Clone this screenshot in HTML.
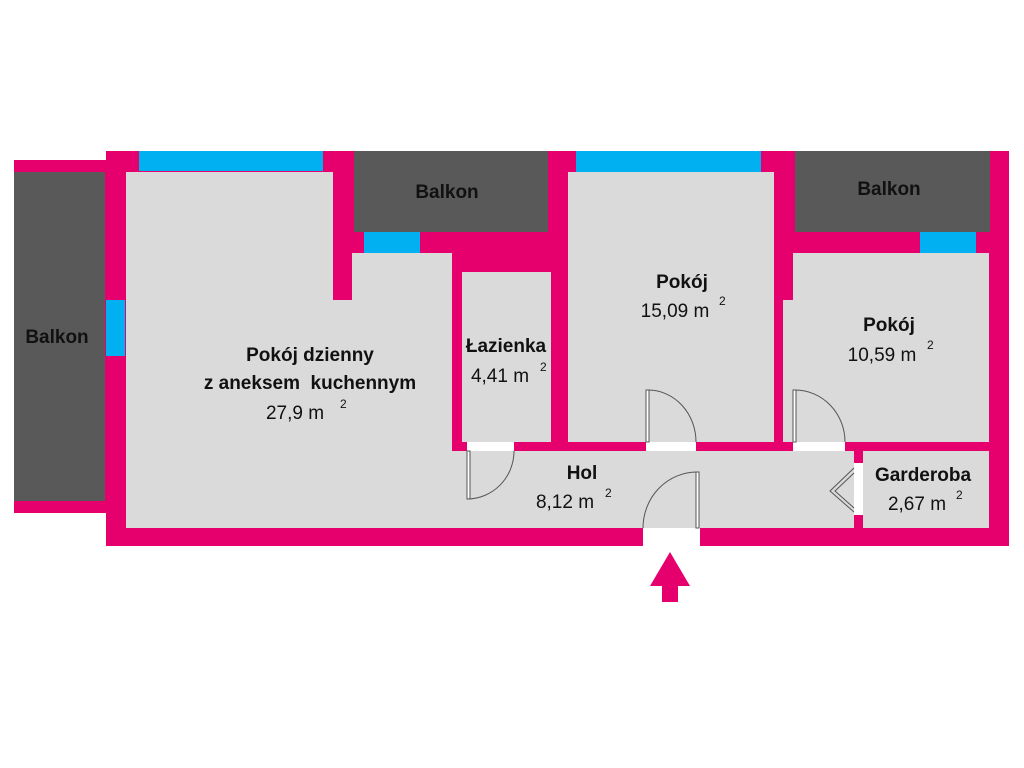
<!DOCTYPE html>
<html><head><meta charset="utf-8"><style>
html,body{margin:0;padding:0;background:#fff;}
svg{display:block;}
text{font-family:"Liberation Sans","DejaVu Sans",sans-serif;fill:#111;}
.b{font-weight:bold;font-size:19px;}
.r{font-size:19px;}
.s{font-size:12px;}
</style></head><body>
<svg width="1024" height="768" viewBox="0 0 1024 768" xmlns="http://www.w3.org/2000/svg">
<rect width="1024" height="768" fill="#fff"/>
<!-- left balcony -->
<rect x="14" y="160" width="94" height="353" fill="#e5006d"/>
<rect x="14" y="172" width="91" height="329" fill="#595959"/>
<!-- main outer -->
<rect x="106" y="151" width="903" height="395" fill="#e5006d"/>
<!-- balconies -->
<rect x="354" y="151" width="194" height="81" fill="#595959"/>
<rect x="795" y="151" width="195" height="81" fill="#595959"/>
<!-- windows -->
<rect x="139" y="151" width="184" height="20" fill="#00b0f0"/>
<rect x="106" y="300" width="19" height="56" fill="#00b0f0"/>
<rect x="364" y="232" width="56" height="21" fill="#00b0f0"/>
<rect x="576" y="151" width="185" height="21" fill="#00b0f0"/>
<rect x="920" y="232" width="56" height="21" fill="#00b0f0"/>
<!-- rooms -->
<g fill="#dadada">
<polygon points="126,172 333,172 333,300 352,300 352,253 452,253 452,451 854,451 854,528 126,528"/>
<rect x="462" y="272" width="89" height="170"/>
<rect x="568" y="172" width="206" height="270"/>
<polygon points="793,253 989,253 989,442 783,442 783,300 793,300"/>
<rect x="863" y="451" width="126" height="77"/>
</g>
<!-- door gaps -->
<g fill="#fff">
<rect x="467" y="442" width="47" height="9"/>
<rect x="646" y="442" width="50" height="9"/>
<rect x="793" y="442" width="52" height="9"/>
<rect x="854" y="463" width="9" height="52"/>
<rect x="643" y="528" width="57" height="18"/>
</g>
<!-- doors -->
<g fill="none" stroke="#555" stroke-width="1">
<rect x="467" y="451" width="3" height="48" fill="#fff"/>
<path d="M467,499 A47,48 0 0 0 514,451"/>
<rect x="646" y="390" width="3" height="52" fill="#fff"/>
<path d="M648,390 A48,52 0 0 1 696,442"/>
<rect x="793" y="390" width="3" height="52" fill="#fff"/>
<path d="M795,390 A50,52 0 0 1 845,442"/>
<rect x="696" y="472" width="3" height="56" fill="#fff"/>
<path d="M697,472 A54,56 0 0 0 643,528"/>
<path d="M854,468 L830,491 L854,512 M854,473 L835,491 L854,508"/>
</g>
<!-- entrance arrow -->
<polygon points="670,552 690,586 678,586 678,602 662,602 662,586 650,586" fill="#e5006d"/>
<!-- labels -->
<text class="b" x="57" y="343" text-anchor="middle">Balkon</text>
<text class="b" x="447" y="198" text-anchor="middle">Balkon</text>
<text class="b" x="889" y="195" text-anchor="middle">Balkon</text>
<text class="b" x="310" y="361" text-anchor="middle">Pokój dzienny</text>
<text class="b" x="310" y="389" text-anchor="middle" xml:space="preserve">z aneksem  kuchennym</text>
<text class="r" x="295" y="419" text-anchor="middle">27,9 m</text><text class="s" x="340" y="408">2</text>
<text class="b" x="506" y="352" text-anchor="middle">Łazienka</text>
<text class="r" x="500" y="382" text-anchor="middle">4,41 m</text><text class="s" x="540" y="371">2</text>
<text class="b" x="682" y="288" text-anchor="middle">Pokój</text>
<text class="r" x="675" y="317" text-anchor="middle">15,09 m</text><text class="s" x="719" y="305">2</text>
<text class="b" x="889" y="331" text-anchor="middle">Pokój</text>
<text class="r" x="882" y="361" text-anchor="middle">10,59 m</text><text class="s" x="927" y="349">2</text>
<text class="b" x="582" y="479" text-anchor="middle">Hol</text>
<text class="r" x="565" y="508" text-anchor="middle">8,12 m</text><text class="s" x="605" y="497">2</text>
<text class="b" x="923" y="481" text-anchor="middle">Garderoba</text>
<text class="r" x="917" y="510" text-anchor="middle">2,67 m</text><text class="s" x="956" y="499">2</text>
</svg>
</body></html>
